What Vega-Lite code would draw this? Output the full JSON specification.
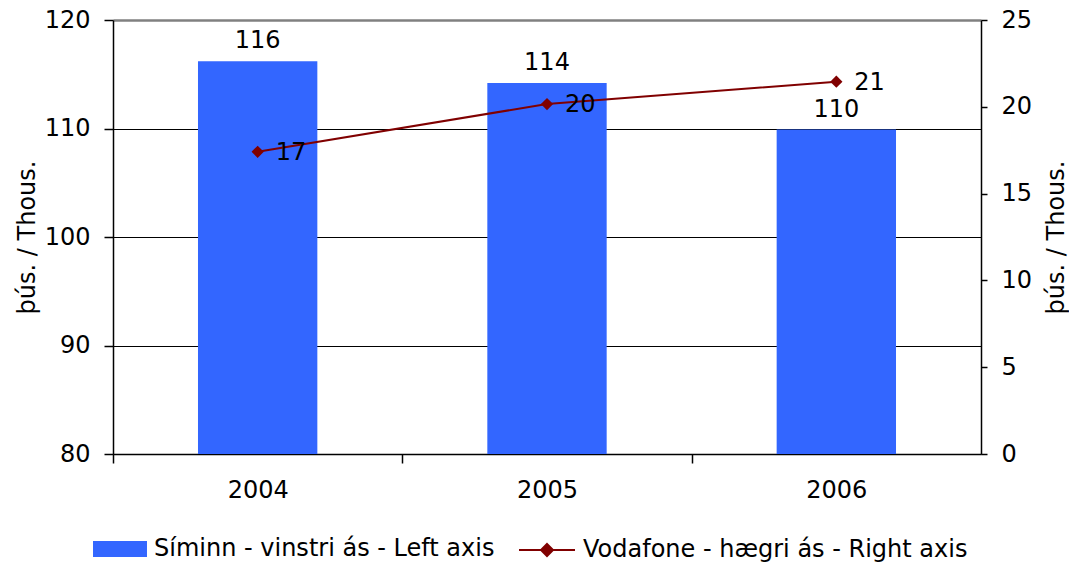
{
  "$schema": "https://vega.github.io/schema/vega-lite/v6.json",
  "width": 868,
  "height": 434,
  "autosize": "none",
  "padding": {"left": 113, "top": 20, "right": 88, "bottom": 108},
  "config": {
    "font": "DejaVu Sans",
    "view": {"stroke": null},
    "axis": {
      "labelFontSize": 24,
      "labelColor": "black",
      "titleFontSize": 24,
      "titleFontWeight": "normal",
      "titleColor": "black",
      "domainColor": "black",
      "tickColor": "black",
      "domainWidth": 1.5,
      "tickWidth": 1.5
    },
    "legend": {"labelFontSize": 24, "labelColor": "black", "padding": 0, "labelLimit": 600}
  },
  "data": {
    "values": [
      {"year": "2004", "Siminn": 116.2, "Vodafone": 17.41},
      {"year": "2005", "Siminn": 114.2, "Vodafone": 20.16},
      {"year": "2006", "Siminn": 109.9, "Vodafone": 21.45}
    ]
  },
  "encoding": {
    "x": {
      "field": "year",
      "type": "nominal",
      "scale": {"paddingInner": 0.5875, "paddingOuter": 0.29375},
      "axis": {
        "title": null,
        "labelAngle": 0,
        "tickOffset": -144.67,
        "labelOffset": 144.67,
        "tickSize": 9,
        "labelPadding": 15,
        "grid": false
      }
    }
  },
  "layer": [
    {
      "encoding": {
        "y": {
          "field": "Siminn",
          "type": "quantitative",
          "scale": {"domain": [80, 120], "nice": false, "zero": false},
          "axis": {
            "orient": "left",
            "title": "þús. / Thous.",
            "values": [80, 90, 100, 110, 120],
            "grid": true,
            "gridColor": {"condition": {"test": "datum.value === 120", "value": "#808080"}, "value": "black"},
            "gridWidth": {"condition": {"test": "datum.value === 120", "value": 2.5}, "value": 1.2},
            "tickSize": 9,
            "labelPadding": 14,
            "titlePadding": 5
          }
        }
      },
      "layer": [
        {
          "mark": {"type": "bar", "color": "#3366FF"},
          "encoding": {
            "y2": {"datum": 80},
            "color": {
              "datum": "Síminn - vinstri ás - Left axis",
              "scale": {"range": ["#3366FF"]},
              "legend": {
                "orient": "none",
                "legendX": -21,
                "legendY": 501,
                "title": null,
                "symbolType": "M-0.964,-0.286H0.964V0.286H-0.964Z",
                "symbolSize": 3136,
                "symbolStrokeWidth": 0,
                "labelOffset": 6
              }
            }
          }
        },
        {
          "mark": {"type": "text", "baseline": "alphabetic", "dy": -13, "fontSize": 24, "color": "black"},
          "encoding": {"text": {"field": "Siminn", "type": "quantitative", "format": ".0f"}}
        }
      ]
    },
    {
      "encoding": {
        "y": {
          "field": "Vodafone",
          "type": "quantitative",
          "scale": {"domain": [0, 25], "nice": false},
          "axis": {
            "orient": "right",
            "title": "þús. / Thous.",
            "values": [0, 5, 10, 15, 20, 25],
            "grid": false,
            "tickSize": 6,
            "labelPadding": 14,
            "titleAngle": 270,
            "titleBaseline": "top",
            "titlePadding": 13
          }
        }
      },
      "layer": [
        {
          "mark": {
            "type": "line",
            "color": "#800000",
            "strokeWidth": 2,
            "point": {"shape": "diamond", "size": 150, "filled": true, "color": "#800000"}
          },
          "encoding": {
            "color": {
              "datum": "Vodafone - hægri ás - Right axis",
              "scale": {"range": ["#800000"]},
              "legend": {
                "orient": "none",
                "legendX": 405,
                "legendY": 501,
                "title": null,
                "symbolType": "M-1,0H1M0,-0.214L0.214,0L0,0.214L-0.214,0Z",
                "symbolSize": 3136,
                "symbolStrokeWidth": 2,
                "symbolFillColor": "#800000",
                "symbolStrokeColor": "#800000",
                "labelOffset": 7
              }
            }
          }
        },
        {
          "mark": {"type": "text", "align": "left", "baseline": "middle", "dx": 18, "dy": 1, "fontSize": 24, "color": "black"},
          "encoding": {"text": {"field": "Vodafone", "type": "quantitative", "format": ".0f"}}
        }
      ]
    }
  ],
  "resolve": {
    "scale": {"y": "independent", "color": "independent"},
    "axis": {"y": "independent"},
    "legend": {"color": "independent"}
  }
}
